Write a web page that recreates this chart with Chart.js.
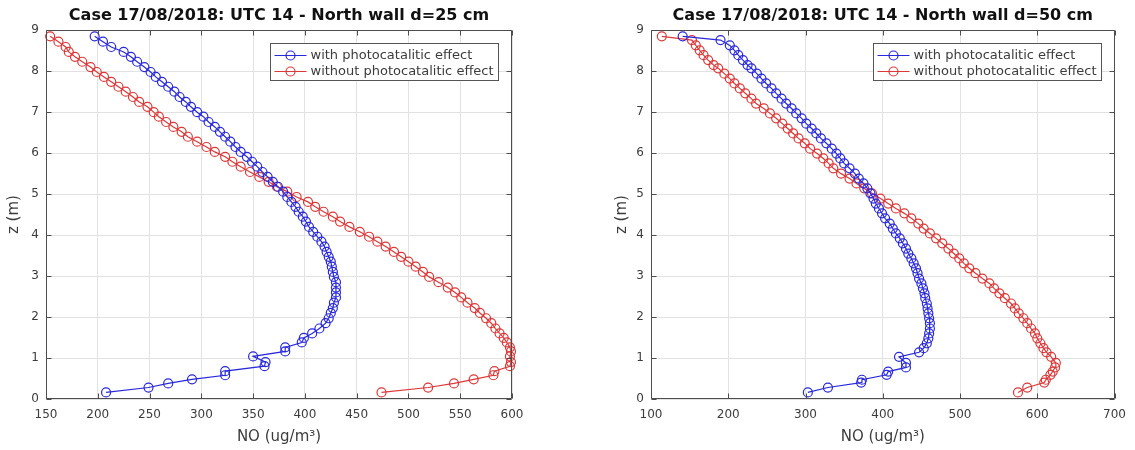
<!DOCTYPE html>
<html><head><meta charset="utf-8">
<script src="https://cdn.jsdelivr.net/npm/chart.js@4.4.1/dist/chart.umd.min.js"></script>
<style>
html,body{margin:0;padding:0;background:#fff;}
#wrap{position:relative;width:1135px;height:450px;overflow:hidden;background:#fff;}
canvas{position:absolute;top:0;}
</style></head><body>
<div id="wrap">
<canvas id="cL" width="567" height="450" style="left:0"></canvas>
<canvas id="cR" width="568" height="450" style="left:567px"></canvas>
</div>
<script>
const seriesLabels = ['with photocatalitic effect', 'without photocatalitic effect'];
const titleLeft = 'Case 17/08/2018: UTC 14 - North wall d=25 cm';
const titleRight = 'Case 17/08/2018: UTC 14 - North wall d=50 cm';
const xAxisTitle = 'NO (ug/m\u00B3)';
const yAxisTitle = 'z (m)';

const xTicksLeft = [150, 200, 250, 300, 350, 400, 450, 500, 550, 600];
const xTicksRight = [100, 200, 300, 400, 500, 600, 700];
const zTicks = [0, 1, 2, 3, 4, 5, 6, 7, 8, 9];

// Left panel (d = 25 cm)
const zLeft = [0.16,0.28,0.38,0.48,0.58,0.68,0.80,0.90,1.04,1.16,1.26,1.38,1.49,1.60,1.72,1.85,1.97,2.10,2.22,2.35,2.48,2.60,2.72,2.85,2.98,3.10,3.23,3.35,3.47,3.59,3.72,3.84,3.96,4.08,4.20,4.33,4.45,4.57,4.69,4.81,4.93,5.06,5.18,5.30,5.42,5.54,5.67,5.79,5.91,6.03,6.15,6.28,6.40,6.52,6.64,6.76,6.89,7.00,7.13,7.25,7.37,7.50,7.62,7.74,7.86,7.98,8.10,8.23,8.35,8.47,8.59,8.72,8.85];
const noWithLeft = [208,249,268,291,323,323,361,362,350,381,381,397,399,407,414,420,423,425,427,428,430,430,430,430,428,427,426,425,423,421,419,416,412,408,404,401,398,394,391,387,383,379,374,369,364,359,354,349,344,338,333,328,323,318,313,307,302,296,290,285,279,274,268,262,256,251,245,238,232,225,213,205,197];
const noWithoutLeft = [474,519,544,563,582,583,598,599,598,599,598,595,592,588,584,580,575,569,564,557,551,545,538,529,520,514,507,500,493,486,478,470,462,453,443,434,427,418,410,403,392,383,373,365,356,347,338,330,323,313,305,296,287,281,273,266,259,254,248,240,234,227,220,213,206,199,193,185,178,172,169,162,154];

// Right panel (d = 50 cm)
const zRight = [0.16,0.28,0.40,0.47,0.59,0.67,0.77,0.88,1.03,1.14,1.24,1.36,1.48,1.60,1.72,1.85,1.97,2.09,2.21,2.33,2.46,2.58,2.70,2.82,2.94,3.07,3.19,3.31,3.43,3.55,3.67,3.80,3.92,4.04,4.16,4.28,4.41,4.53,4.65,4.77,4.89,5.02,5.14,5.26,5.38,5.50,5.63,5.75,5.87,5.99,6.11,6.24,6.36,6.48,6.60,6.72,6.85,6.97,7.09,7.21,7.33,7.46,7.58,7.70,7.82,7.94,8.07,8.15,8.27,8.39,8.51,8.63,8.76,8.85];
const noWithRight = [303,329,372,373,405,407,430,430,421,447,453,457,459,460,461,461,460,459,458,457,455,454,452,450,447,445,443,440,437,433,430,426,422,417,413,409,403,399,395,391,388,384,380,375,369,364,357,350,345,340,334,327,320,314,308,301,295,288,282,275,269,262,256,249,243,237,230,225,219,213,208,202,190,141];
const noWithoutRight = [575,587,609,611,617,620,623,624,618,612,608,604,600,597,592,587,582,576,571,566,558,551,544,538,529,520,512,505,499,492,485,477,469,461,453,446,437,428,417,407,397,386,376,366,357,346,336,330,323,315,306,299,291,284,277,270,262,254,246,236,230,222,215,208,202,195,187,181,174,168,163,158,153,114];

const BLUE = 'rgb(40,40,220)';
const RED = 'rgb(222,55,55)';
const AXC = '#4d4d4d';
const GRID = '#e2e2e2';
const TXT = '#3c3c3c';
const FONT = "'DejaVu Sans', sans-serif";

function pts(xs, zs) { return xs.map((x, i) => ({ x: x, y: zs[i] })); }

const boxPlugin = {
  id: 'boxTicks',
  afterDatasetsDraw(chart) {
    const ctx = chart.ctx, a = chart.chartArea;
    const xs = chart.scales.x, ys = chart.scales.y;
    ctx.save();
    ctx.strokeStyle = AXC; ctx.lineWidth = 1;
    const L = Math.round(a.left) + 0.5, R = Math.round(a.right) - 0.5;
    const T = Math.round(a.top) + 0.5, B = Math.round(a.bottom) - 0.5;
    ctx.beginPath();
    ctx.rect(L, T, R - L, B - T);
    const tl = 5;
    xs.ticks.forEach(t => {
      const p = Math.round(xs.getPixelForValue(t.value)) + 0.5;
      ctx.moveTo(p, B); ctx.lineTo(p, B - tl);
      ctx.moveTo(p, T); ctx.lineTo(p, T + tl);
    });
    ys.ticks.forEach(t => {
      const p = Math.round(ys.getPixelForValue(t.value)) + 0.5;
      ctx.moveTo(L, p); ctx.lineTo(L + tl, p);
      ctx.moveTo(R, p); ctx.lineTo(R - tl, p);
    });
    ctx.stroke();
    ctx.restore();
  }
};

const legendPlugin = {
  id: 'innerLegend',
  afterDraw(chart) {
    const ctx = chart.ctx, a = chart.chartArea;
    const w = 228, h = 37;
    const bx = Math.round(a.right - 14 - w) + 0.5, by = Math.round(a.top + 13) + 0.5;
    ctx.save();
    ctx.fillStyle = '#fff';
    ctx.fillRect(bx, by, w, h);
    ctx.strokeStyle = '#555'; ctx.lineWidth = 1;
    ctx.strokeRect(bx, by, w, h);
    chart.data.datasets.forEach((ds, i) => {
      const cy = by + 12 + i * 16;
      ctx.strokeStyle = ds.borderColor; ctx.lineWidth = 1.2;
      ctx.beginPath(); ctx.moveTo(bx + 4, cy); ctx.lineTo(bx + 36, cy); ctx.stroke();
      ctx.beginPath(); ctx.arc(bx + 20, cy, 4.5, 0, Math.PI * 2); ctx.stroke();
      ctx.fillStyle = TXT;
      ctx.font = '13px ' + FONT;
      ctx.textBaseline = 'middle';
      ctx.textAlign = 'left';
      ctx.fillText(ds.label, bx + 40, cy + 0.5);
    });
    ctx.restore();
  }
};

function makeChart(id, title, zs, xWith, xWithout, xTicks, padL, padR, yW) {
  const mk = (label, xs, col) => ({
    label: label, data: pts(xs, zs), showLine: true,
    borderColor: col, borderWidth: 1.2, tension: 0,
    pointRadius: 4.5, pointHoverRadius: 4.5, pointBorderWidth: 1.2,
    pointBorderColor: col, pointBackgroundColor: 'rgba(0,0,0,0)',
    pointStyle: 'circle', clip: 6
  });
  return new Chart(document.getElementById(id), {
    type: 'scatter',
    data: { datasets: [ mk(seriesLabels[0], xWith, BLUE), mk(seriesLabels[1], xWithout, RED) ] },
    options: {
      responsive: false, animation: false, devicePixelRatio: 1,
      layout: { padding: { left: padL, right: padR, top: 0, bottom: 0 } },
      plugins: {
        legend: { display: false },
        tooltip: { enabled: false },
        title: { display: true, text: title, color: '#111', fullSize: false,
                 font: { family: FONT, size: 16, weight: 'bold' }, padding: { top: 6, bottom: 5 } }
      },
      scales: {
        x: {
          type: 'linear', position: 'bottom',
          min: xTicks[0], max: xTicks[xTicks.length - 1],
          afterBuildTicks(s) { s.ticks = xTicks.map(v => ({ value: v })); },
          ticks: { color: TXT, font: { family: FONT, size: 12 }, padding: 9, maxRotation: 0, autoSkip: false },
          grid: { color: GRID, drawTicks: false, lineWidth: 1 },
          border: { display: false },
          title: { display: true, text: xAxisTitle, color: TXT, font: { family: FONT, size: 15 }, padding: { top: 0, bottom: 4 } },
          afterFit(s) { s.height = 51; }
        },
        y: {
          type: 'linear', position: 'left',
          min: zTicks[0], max: zTicks[zTicks.length - 1],
          afterBuildTicks(s) { s.ticks = zTicks.map(v => ({ value: v })); },
          ticks: { color: TXT, font: { family: FONT, size: 12 }, padding: 7, autoSkip: false },
          grid: { color: GRID, drawTicks: false, lineWidth: 1 },
          border: { display: false },
          title: { display: true, text: yAxisTitle, color: TXT, font: { family: FONT, size: 15 }, padding: { top: 5, bottom: 0 } },
          afterFit(s) { s.width = yW; }
        }
      }
    },
    plugins: [boxPlugin, legendPlugin]
  });
}

makeChart('cL', titleLeft, zLeft, noWithLeft, noWithoutLeft, xTicksLeft, 0, 55, 46);
makeChart('cR', titleRight, zRight, noWithRight, noWithoutRight, xTicksRight, 41, 18, 43);
</script>
</body></html>
